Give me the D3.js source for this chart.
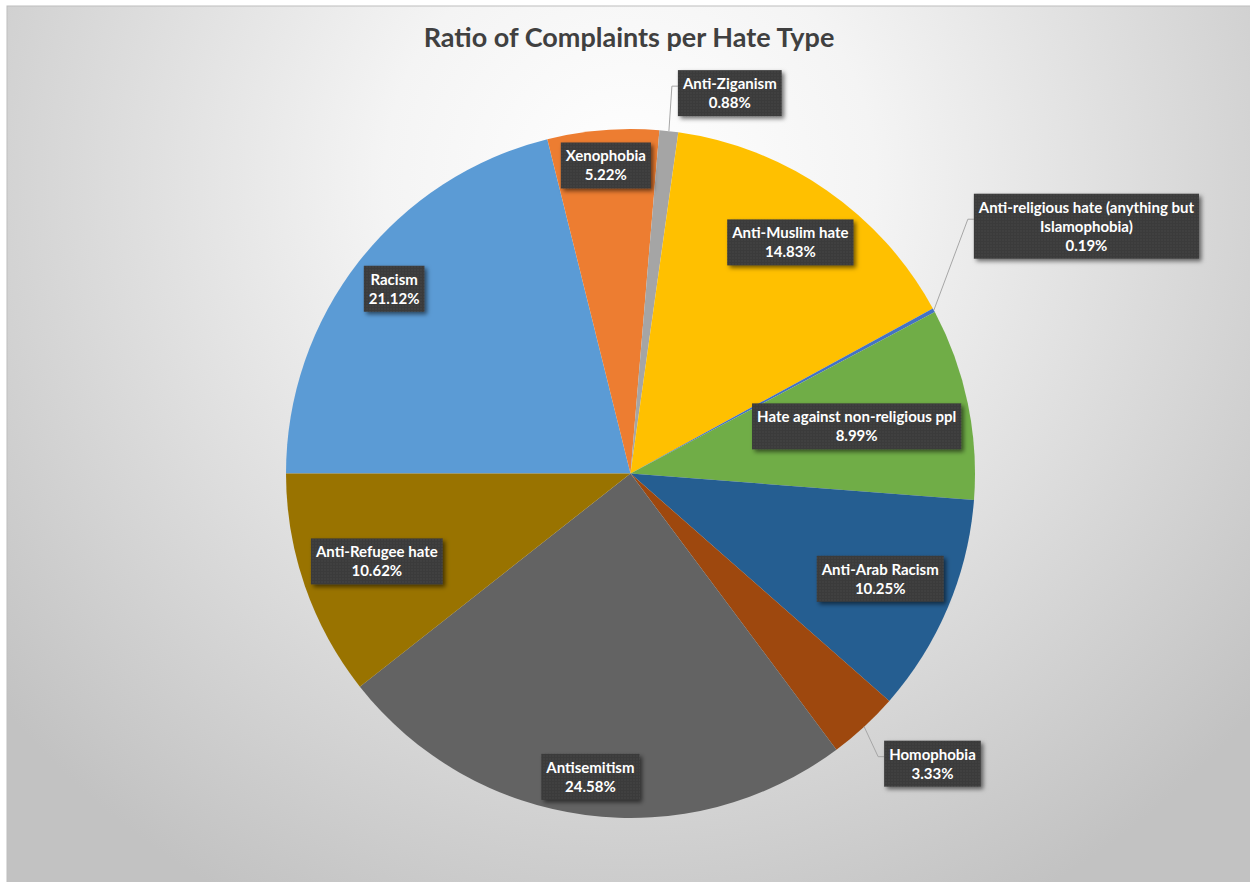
<!DOCTYPE html>
<meta charset="utf-8">
<style>
body { margin: 0; background: #fff; }
svg { display: block; }
.title { font-family: Lato, "Open Sans", sans-serif; font-weight: bold; fill: #404040; font-size: 27px; }
.lbl { font-family: Lato, "Open Sans", sans-serif; font-weight: bold; fill: #fff; font-size: 15px; }
.leader { fill: none; stroke: #a6a6a6; stroke-width: 1px; }
</style>
<body>
<script src="https://d3js.org/d3.v7.min.js"></script>
<script>

// data, in the order of the original series (first slice starts at 9 o'clock)
var categories = ["Racism", "Xenophobia", "Anti-Ziganism", "Anti-Muslim hate",
  "Anti-religious hate (anything but Islamophobia)", "Hate against non-religious ppl",
  "Anti-Arab Racism", "Homophobia", "Antisemitism", "Anti-Refugee hate"];
var values = [21.12, 5.22, 0.88, 14.83, 0.19, 8.99, 10.25, 3.33, 24.58, 10.62];
var colors = ["#5B9BD5", "#ED7D31", "#A5A5A5", "#FFC000", "#4472C4", "#70AD47",
  "#255E91", "#9E480E", "#636363", "#997300"];

// labels that sit outside the pie: offset of the leader end from the arc point
var outsideOffset = {
  "Anti-Ziganism": [9, -45],
  "Anti-religious hate (anything but Islamophobia)": [40, -91],
  "Homophobia": [20, 30]
};

var width = 1250, height = 882;
var cx = 630.5, cy = 473.5, R = 344.5;

var svg = d3.select("body").append("svg")
    .attr("width", width)
    .attr("height", height);

var defs = svg.append("defs");

var grad = defs.append("radialGradient")
    .attr("id", "bg")
    .attr("gradientUnits", "userSpaceOnUse")
    .attr("cx", 630).attr("cy", 180).attr("r", 820);
grad.append("stop").attr("offset", "0%").attr("stop-color", "#ffffff");
grad.append("stop").attr("offset", "30%").attr("stop-color", "#f4f4f4");
grad.append("stop").attr("offset", "100%").attr("stop-color", "#c2c2c2");

// dotted texture of the label boxes
var pat = defs.append("pattern")
    .attr("id", "dots")
    .attr("patternUnits", "userSpaceOnUse")
    .attr("width", 3).attr("height", 3);
pat.append("rect").attr("width", 3).attr("height", 3).attr("fill", "#3a3a3a");
pat.append("rect").attr("width", 1).attr("height", 1).attr("fill", "#545454");

var shadow = defs.append("filter").attr("id", "shadow")
    .attr("x", "-20%").attr("y", "-30%").attr("width", "150%").attr("height", "170%");
shadow.append("feDropShadow")
    .attr("dx", 2.5).attr("dy", 2.5).attr("stdDeviation", 2)
    .attr("flood-color", "#000").attr("flood-opacity", 0.55);

// chart area
svg.append("rect")
    .attr("x", 7).attr("y", 6)
    .attr("width", width - 6).attr("height", height - 5)
    .attr("fill", "url(#bg)")
    .attr("stroke", "#bdbdbd")
    .attr("stroke-width", 1);

svg.append("text")
    .attr("class", "title")
    .attr("x", 629)
    .attr("y", 47)
    .attr("text-anchor", "middle")
    .text("Ratio of Complaints per Hate Type");

var data = categories.map(function(c, i) { return {name: c, value: values[i], color: colors[i]}; });

var pie = d3.pie()
    .sort(null)
    .startAngle(-Math.PI / 2)
    .endAngle(3 * Math.PI / 2)
    .value(function(d) { return d.value; });

var arc = d3.arc().innerRadius(0).outerRadius(R);

var arcs = pie(data);

var g = svg.append("g").attr("transform", "translate(" + cx + "," + cy + ")");

g.selectAll("path.slice")
    .data(arcs)
  .enter().append("path")
    .attr("class", "slice")
    .attr("d", arc)
    .attr("fill", function(d) { return d.data.color; });

// labels
var lineH = 19, padX = 5, padY = 4, maxW = 235;
var leaders = g.append("g");
var labels = g.append("g");

arcs.forEach(function(a) {
  var lg = labels.append("g");
  var box = lg.append("rect").attr("fill", "url(#dots)").attr("filter", "url(#shadow)");
  var txt = lg.append("text").attr("class", "lbl").attr("text-anchor", "middle");

  // wrap the name into lines no wider than maxW
  var words = a.data.name.split(" ");
  var lines = [], cur = "";
  var probe = txt.append("tspan");
  words.forEach(function(w) {
    var test = cur ? cur + " " + w : w;
    probe.text(test);
    if (probe.node().getComputedTextLength() > maxW && cur) {
      lines.push(cur);
      cur = w;
    } else {
      cur = test;
    }
  });
  lines.push(cur);
  probe.remove();
  lines.push(d3.format(".2f")(a.data.value) + "%");

  var tw = 0;
  lines.forEach(function(l, i) {
    var t = txt.append("tspan").attr("x", 0).attr("y", i * lineH).text(l);
    tw = Math.max(tw, t.node().getComputedTextLength());
  });

  var bw = tw + 2 * padX, bh = lines.length * lineH + 2 * padY;
  var mid = (a.startAngle + a.endAngle) / 2;
  var ux = Math.sin(mid), uy = -Math.cos(mid);
  var bx, by; // box centre

  if (outsideOffset[a.data.name]) {
    var off = outsideOffset[a.data.name];
    var px = R * ux, py = R * uy;
    var ax = px + off[0], ay = py + off[1];
    bx = ax + bw / 2;
    by = ay + 7;
    leaders.append("path")
        .attr("class", "leader")
        .attr("d", d3.line()([[px, py], [ax - 6, ay], [ax, ay]]));
  } else {
    // push the box outwards until it touches the rim
    var d = 0;
    for (var r = R; r > 0; r -= 0.5) {
      var x0 = r * ux - bw / 2, x1 = r * ux + bw / 2;
      var y0 = r * uy - bh / 2, y1 = r * uy + bh / 2;
      var far = d3.max([[x0, y0], [x0, y1], [x1, y0], [x1, y1]], function(p) { return Math.hypot(p[0], p[1]); });
      if (far <= R - 6) { d = r; break; }
    }
    bx = d * ux;
    by = d * uy;
  }

  box.attr("x", bx - bw / 2).attr("y", by - bh / 2).attr("width", bw).attr("height", bh);
  txt.attr("transform", "translate(" + bx + "," + (by - bh / 2 + padY + 15) + ")");
});

</script>
